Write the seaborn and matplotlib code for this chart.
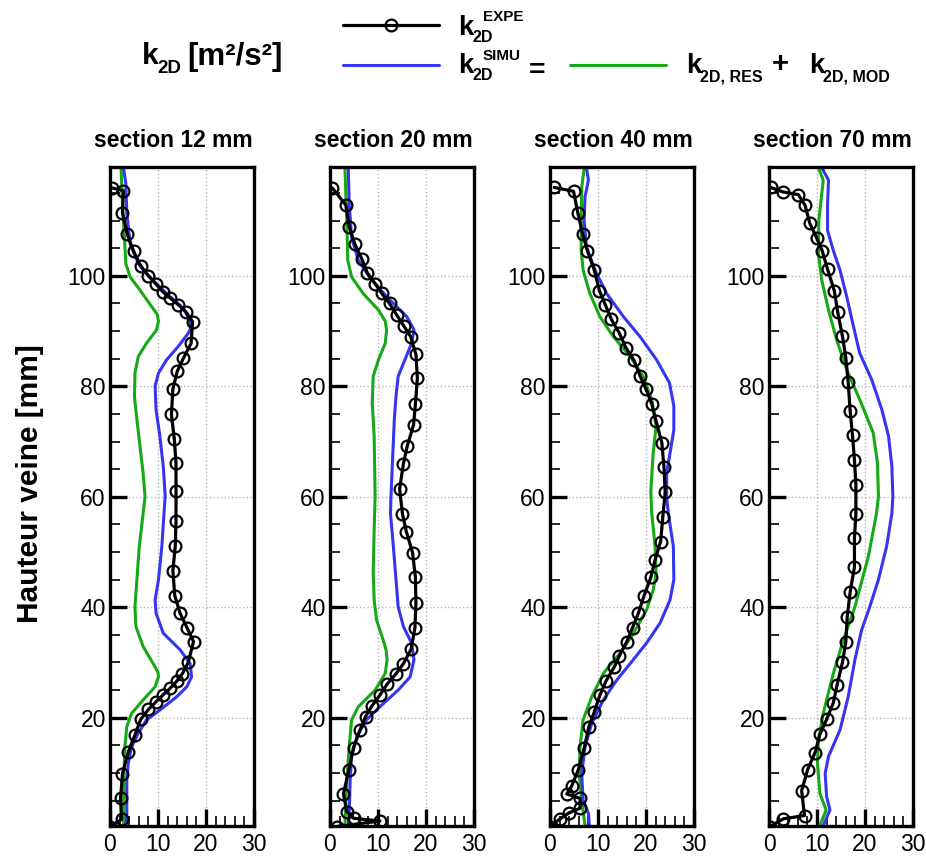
import numpy as np
import seaborn as sns
import matplotlib.pyplot as plt
from matplotlib.ticker import MultipleLocator

# ---- data (k in m2/s2, y in mm) ----
sections = ["section 12 mm", "section 20 mm", "section 40 mm", "section 70 mm"]

k12_expe = [0.5, 2.8, 2.6, 3.6, 4.9, 6.4, 8.0, 9.6, 11.0, 12.5, 14.2, 15.8, 17.2, 16.9, 15.3, 14.0, 13.1, 12.8, 13.4, 13.75,
            13.75, 13.75, 13.6, 13.1, 13.5, 14.6, 16.1, 17.4, 16.3, 15.1, 14.0, 12.5, 11.0, 9.6, 8.0, 6.4, 5.2, 3.8, 2.6, 2.2,
            2.4, 0.0]
y12_expe = [115.9, 115.4, 111.4, 107.5, 104.5, 101.8, 100.0, 98.5, 97.1, 96.0, 94.8, 93.5, 91.7, 87.8, 85.1, 82.7, 79.5, 74.9,
            70.4, 66.1, 61.0, 55.6, 51.1, 46.6, 42.1, 38.9, 36.2, 33.8, 30.0, 28.0, 26.7, 25.3, 24.1, 22.9, 21.5, 19.7, 16.9,
            13.8, 9.9, 5.4, 1.6, 0.3]
k12_simu = [2.8, 3.3, 3.5, 4.2, 5.9, 8.0, 11.8, 15.3, 16.7, 16.9, 16.3, 14.2, 11.8, 10.1, 9.4, 9.6, 10.4, 11.1, 11.5, 11.25,
            10.8, 10.1, 9.4, 9.6, 11.1, 14.6, 16.7, 17.0, 16.0, 13.9, 10.4, 7.6, 5.9, 4.5, 3.8, 3.5, 3.5, 3.3]
y12_simu = [119.6, 116.7, 111.3, 105.8, 102.2, 100.0, 96.8, 94.1, 91.8, 90.6, 89.6, 87.2, 84.8, 82.4, 80.0, 75.7, 70.9, 65.5,
            60.1, 57.0, 51.0, 45.0, 41.3, 38.9, 35.3, 32.3, 29.8, 27.4, 25.6, 23.8, 21.4, 19.6, 17.2, 14.7, 11.7, 8.7, 2.7, 0.5]
k12_res = [2.3, 2.6, 3.0, 3.3, 4.2, 6.25, 8.7, 9.8, 10.1, 9.7, 7.6, 5.9, 5.2, 5.1, 5.6, 6.25, 6.9, 7.3, 6.9, 6.1,
           5.6, 5.2, 5.4, 6.9, 9.4, 10.0, 10.1, 9.4, 6.9, 4.5, 3.5, 3.1, 2.9, 2.8]
y12_res = [119.6, 113.0, 107.0, 102.2, 99.8, 97.4, 94.4, 93.1, 91.8, 90.2, 87.8, 85.4, 82.4, 78.1, 74.0, 69.1, 64.3, 60.0,
           57.0, 51.0, 45.0, 40.1, 36.5, 32.9, 29.2, 28.2, 27.4, 25.6, 23.2, 20.8, 18.4, 14.7, 8.7, 0.5]

k20_expe = [0.5, 3.3, 4.0, 5.2, 6.6, 7.8, 9.4, 10.8, 12.4, 13.9, 15.4, 16.8, 17.9, 18.2, 17.8, 17.4, 16.1, 15.3, 14.5, 15.1,
            15.9, 17.2, 17.8, 17.9, 17.7, 16.9, 15.3, 13.7, 11.9, 10.4, 8.7, 7.4, 6.25, 4.9, 3.9, 2.8, 3.5, 4.9, 10.4, 1.4]
y20_expe = [115.9, 112.8, 108.9, 105.7, 103.1, 100.5, 98.6, 96.8, 95.0, 92.9, 90.9, 89.0, 85.8, 81.5, 76.8, 73.0, 69.2, 66.0,
            61.4, 56.9, 53.7, 49.9, 45.4, 40.8, 36.3, 32.4, 29.8, 27.9, 26.1, 24.1, 22.1, 20.2, 17.8, 14.6, 10.5, 6.2, 3.0,
            1.8, 1.3, 0.3]
k20_simu = [3.8, 4.0, 4.5, 5.9, 8.7, 12.5, 16.0, 17.5, 17.0, 15.6, 14.2, 13.75, 13.4, 13.1, 12.7, 12.6, 13.2, 13.75, 14.2,
            15.3, 17.0, 17.5, 16.7, 14.2, 10.4, 7.6, 5.6, 4.5, 4.2, 4.0, 3.8]
y20_simu = [119.6, 113.0, 107.0, 102.8, 99.2, 95.6, 92.6, 90.2, 87.8, 84.8, 81.8, 78.2, 74.0, 68.0, 60.0, 57.0, 51.0, 45.0,
            40.1, 36.5, 33.5, 30.5, 27.4, 25.0, 22.0, 19.6, 16.6, 12.9, 8.7, 2.7, 0.5]
k20_res = [3.1, 3.5, 3.7, 4.5, 6.9, 10.1, 11.5, 11.8, 11.5, 10.1, 9.0, 8.8, 9.2, 9.4, 9.2, 9.0, 9.2, 9.7, 11.1, 11.7, 11.9,
           11.5, 9.4, 5.9, 4.5, 4.0, 3.5, 3.1]
y20_res = [119.6, 110.0, 102.8, 99.8, 96.8, 93.8, 91.8, 90.2, 87.8, 84.8, 81.8, 77.0, 71.0, 60.0, 54.0, 46.2, 41.3, 37.7,
           34.0, 32.2, 30.5, 28.0, 25.0, 22.0, 19.6, 14.7, 8.7, 0.5]

k40_expe = [0.9, 4.9, 5.8, 6.8, 7.8, 9.2, 10.3, 11.5, 12.8, 14.4, 15.8, 17.5, 18.75, 20.0, 21.2, 22.1, 23.3, 23.75, 24.0, 23.5,
            23.05, 21.9, 21.0, 19.6, 18.4, 17.2, 16.0, 14.4, 13.4, 11.7, 10.4, 9.2, 8.1, 7.15, 5.9, 4.5, 3.5, 6.25, 6.25, 4.0,
            2.1, 0.0]
y40_expe = [116.0, 115.3, 111.4, 107.6, 104.5, 101.1, 97.3, 94.8, 92.1, 89.7, 87.0, 84.7, 81.9, 79.5, 76.8, 73.7, 69.8, 65.3,
            60.8, 56.3, 51.9, 48.6, 45.4, 42.1, 38.9, 36.3, 33.8, 31.1, 29.2, 26.7, 24.1, 21.0, 18.4, 14.6, 10.6, 7.6, 6.2,
            5.4, 3.6, 2.8, 1.7, 0.3]
k40_simu = [7.6, 8.0, 7.3, 7.1, 7.6, 9.4, 11.8, 15.3, 18.75, 22.2, 24.9, 25.8, 25.8, 25.0, 24.3, 24.3, 24.65, 25.7, 25.8,
            25.0, 22.9, 20.1, 16.7, 13.9, 11.1, 8.7, 7.3, 6.6, 6.9, 8.0, 8.2]
y40_simu = [119.6, 117.3, 114.3, 110.1, 105.2, 101.0, 96.8, 92.6, 89.0, 84.8, 80.6, 76.4, 72.1, 67.9, 64.3, 60.0, 57.0, 51.0,
            45.0, 41.3, 37.1, 33.5, 29.8, 26.8, 23.2, 19.0, 14.7, 9.9, 5.1, 2.7, 0.5]
k40_res = [7.15, 6.6, 6.5, 6.5, 6.9, 8.3, 10.4, 13.2, 16.7, 19.4, 21.2, 22.1, 21.5, 21.0, 21.2, 21.9, 22.1, 21.5, 20.1, 17.4,
           14.6, 11.1, 8.7, 6.9, 6.25, 6.1, 6.6, 7.3]
y40_res = [119.6, 116.0, 110.0, 104.6, 101.0, 96.8, 92.6, 89.0, 85.4, 81.8, 77.6, 72.7, 67.9, 61.0, 57.0, 51.0, 46.2, 43.1,
           39.5, 35.3, 31.7, 28.0, 23.8, 19.6, 14.7, 9.9, 5.1, 0.5]

k70_expe = [0.35, 2.85, 6.1, 7.5, 8.5, 9.9, 11.1, 12.2, 13.6, 14.3, 15.3, 16.0, 16.5, 16.9, 17.4, 17.8, 18.1, 18.1, 17.8, 17.8,
            16.9, 16.3, 16.0, 15.3, 14.2, 13.4, 12.0, 10.6, 9.6, 8.05, 6.8, 7.4, 3.0, 0.2]
y70_expe = [116.0, 115.2, 114.7, 112.8, 109.5, 106.9, 104.5, 101.2, 97.3, 93.5, 89.1, 85.2, 80.7, 75.6, 71.1, 66.7, 62.2, 56.9,
            52.5, 47.3, 42.7, 38.3, 33.7, 30.0, 26.0, 22.7, 19.7, 17.0, 13.7, 10.6, 6.8, 2.3, 1.7, 0.3]
k70_simu = [11.0, 12.4, 12.2, 12.2, 13.4, 14.8, 16.2, 17.6, 18.9, 21.4, 23.5, 24.9, 25.6, 25.8, 25.6, 24.5, 22.8, 21.0, 19.3,
            17.9, 16.5, 14.8, 12.4, 11.7, 12.0, 12.7, 11.3]
y70_simu = [119.6, 117.3, 113.0, 108.2, 104.6, 101.0, 96.2, 90.8, 86.0, 81.2, 75.8, 71.0, 65.5, 60.0, 57.0, 51.0, 45.0, 40.1,
            35.9, 30.5, 23.8, 17.8, 13.0, 9.9, 5.7, 3.3, 0.5]
k70_res = [10.3, 11.3, 11.0, 10.4, 10.3, 11.0, 12.4, 14.1, 16.2, 18.9, 21.7, 22.6, 22.8, 22.4, 20.7, 17.9, 15.5, 13.4, 11.3,
           10.3, 10.1, 10.6, 11.9, 10.6]
y70_res = [119.6, 117.3, 114.9, 110.1, 104.0, 99.2, 93.8, 88.4, 83.0, 77.6, 71.6, 66.1, 60.0, 57.0, 49.2, 40.1, 34.1, 28.0,
           20.8, 16.0, 11.8, 6.3, 3.3, 0.5]

panels = [
    (k12_expe, y12_expe, k12_simu, y12_simu, k12_res, y12_res),
    (k20_expe, y20_expe, k20_simu, y20_simu, k20_res, y20_res),
    (k40_expe, y40_expe, k40_simu, y40_simu, k40_res, y40_res),
    (k70_expe, y70_expe, k70_simu, y70_simu, k70_res, y70_res),
]

BLUE = "#3535f2"
GREEN = "#17a817"
W, H = 926, 857

sns.set_style("white")
plt.rcParams["font.family"] = ["Liberation Sans", "DejaVu Sans"]
for key in ["text.color", "axes.labelcolor", "xtick.color", "ytick.color", "axes.edgecolor"]:
    plt.rcParams[key] = "black"

fig = plt.figure(figsize=(W / 100, H / 100), dpi=100)


def ptext(x, y, s, size, **kw):
    # text placed in pixel coords (origin top-left), y is the baseline
    fig.text(x / W, 1 - y / H, s, fontsize=size, fontweight="bold", va="baseline", **kw)


lefts = [110, 330, 550, 769]
handles = None
for i, (kx, ky, sx, sy, rx, ry) in enumerate(panels):
    ax = fig.add_axes([lefts[i] / W, 1 - 826 / H, 144 / W, 659 / H])
    ax.set_axisbelow(True)
    ax.grid(True, which="major", ls=":", color="#b5b5b5", lw=1.0)

    sns.lineplot(x=rx, y=ry, sort=False, estimator=None, ax=ax, color=GREEN, lw=2.2,
                 label="res" if i == 0 else None)
    sns.lineplot(x=sx, y=sy, sort=False, estimator=None, ax=ax, color=BLUE, lw=2.2,
                 label="simu" if i == 0 else None)
    sns.lineplot(x=kx, y=ky, sort=False, estimator=None, ax=ax, color="black", lw=2.3,
                 marker="o", ms=8.5, mfc="none", mec="black", mew=1.6,
                 label="expe" if i == 0 else None)
    if i == 0:
        handles, _ = ax.get_legend_handles_labels()
    if ax.get_legend() is not None:
        ax.get_legend().remove()

    ax.set_xlim(0, 30)
    ax.set_ylim(0.4, 119.7)
    ax.set_xticks([0, 10, 20, 30])
    ax.set_yticks([20, 40, 60, 80, 100])
    ax.xaxis.set_minor_locator(MultipleLocator(2))
    ax.yaxis.set_minor_locator(MultipleLocator(5))
    ax.tick_params(which="major", direction="in", length=12, width=2.4, labelsize=16.5,
                   bottom=True, left=True, top=False, right=False)
    ax.tick_params(which="minor", direction="in", length=7.5, width=1.2,
                   bottom=True, left=True, top=False, right=False)
    ax.tick_params(axis="x", which="major", pad=5)
    ax.tick_params(axis="y", which="major", pad=3)
    ax.set_xlabel("")
    ax.set_ylabel("")
    for sp in ax.spines.values():
        sp.set_linewidth(2.4)
        sp.set_color("black")
    ax.text(0.44, 1.03, sections[i], transform=ax.transAxes, ha="center", va="baseline",
            fontsize=16.5, fontweight="bold")

fig.text(30 / W, 1 - 484 / H, "Hauteur veine [mm]", rotation=90, ha="center", va="center",
         fontsize=21.5, fontweight="bold")

# header
ptext(142, 64, "k", 21.5)
ptext(157, 73, "2D", 13.5)
ptext(187, 65, "[m²/s²]", 22.5)

# legend lines (handles from the seaborn plots)
h_res, h_simu, h_expe = handles
for h, ylin, xl in [(h_expe, 26, 343), (h_simu, 66, 343), (h_res, 66, 570)]:
    fig.legend([h], [" "], loc="center left", bbox_to_anchor=(xl / W, 1 - ylin / H),
               frameon=False, prop={"size": 10}, handlelength=6.9, handletextpad=0,
               borderpad=0, borderaxespad=0, numpoints=1)

# legend labels
ptext(458, 35, "k", 20)
ptext(473, 42, "2D", 11.5)
ptext(483, 21, "EXPE", 11)
ptext(458, 73, "k", 20)
ptext(473, 80, "2D", 11.5)
ptext(483, 60, "SIMU", 11)
ptext(529, 78, "=", 20.5)
ptext(686, 73, "k", 20)
ptext(700, 82, "2D, RES", 11.5)
ptext(772, 72, "+", 21)
ptext(809, 73, "k", 20)
ptext(823, 82, "2D, MOD", 11.5)

fig.savefig("out.png", dpi=100)
